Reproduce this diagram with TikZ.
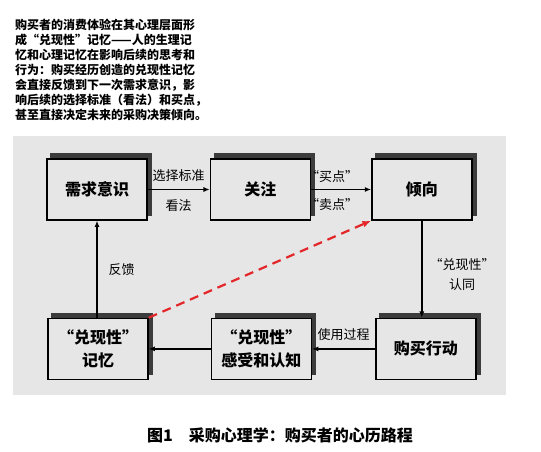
\documentclass[tikz,border=0pt]{standalone}
\usepackage{fontspec}
\newfontfamily\cjk{Noto Sans CJK SC}
\usepackage{tikz}
\usetikzlibrary{arrows.meta,positioning,shadows}

\definecolor{panelgray}{HTML}{E6E6E6}
\definecolor{shadegray}{HTML}{3C3C3C}
\definecolor{dashred}{HTML}{E3262A}

\begin{document}
\begin{tikzpicture}[
    x=1pt, y=-1pt,
    node distance=97pt and 62pt,
    stage/.style={draw=black, line width=1.4pt, fill=panelgray, align=center, minimum width=100pt, minimum height=61pt, inner sep=0pt, font=\cjk\bfseries\fontsize{16}{23}\selectfont, copy shadow={shadow xshift=4pt, shadow yshift=5pt, fill=shadegray, draw=shadegray}},
    arrow/.style={-{Latex[length=2.2mm, width=1.8mm]}, line width=1.4pt, draw=black},
    lbl/.style={font=\cjk\fontsize{13}{20}\selectfont, align=center, inner sep=2pt}
]
\useasboundingbox (0,0) rectangle (541,452);
\fill[panelgray] (13,136) rectangle (506,395);

% intro paragraph
\node[anchor=north west, align=left, inner sep=0pt, font=\cjk\bfseries\fontsize{12}{15}\selectfont] (intro) at (15,19)
  {购买者的消费体验在其心理层面形\\成“兑现性”记忆——人的生理记\\忆和心理记忆在影响后续的思考和\\行为：购买经历创造的兑现性记忆\\会直接反馈到下一次需求意识，影\\响后续的选择标准（看法）和买点，\\甚至直接决定未来的采购决策倾向。};

% stages
\node[stage] (need) at (97,189.5) {需求意识};
\node[stage, right=of need] (focus) {关注};
\node[stage, right=60pt of focus] (tend) {倾向};
\node[stage, below=of tend, xshift=4pt] (buy) {购买行动};
\node[stage, left=63pt of buy] (feel) {“兑现性”\\感受和认知};
\node[stage, left=of feel] (memory) {“兑现性”\\记忆};

% connectors
\draw[arrow] (need) -- node[lbl, above=5pt]{选择标准} node[lbl, below=7pt]{看法} (focus);
\draw[arrow] (focus) -- node[lbl, above=4pt, pos=0.35]{“买点”} node[lbl, below=6pt, pos=0.35]{“卖点”} (tend);
\draw[arrow] (tend.south) -- node[lbl, right=5pt, pos=0.55]{“兑现性”\\认同} (tend.south |- buy.north);
\draw[arrow] (buy) -- node[lbl, above=6pt]{使用过程} (feel);
\draw[arrow] (feel) -- (memory);
\draw[arrow] (need.south |- memory.north) -- node[lbl, right=9pt]{反馈} (need.south);
\draw[-{Latex[length=3mm, width=2.4mm]}, line width=2.2pt, dash pattern=on 9pt off 6pt, draw=dashred] (memory.north east) -- (tend.south west);

% caption
\node[font=\cjk\bfseries\fontsize{16}{18}\selectfont] (caption) at (280,435) {图1\quad 采购心理学：购买者的心历路程};
\end{tikzpicture}
\end{document}
